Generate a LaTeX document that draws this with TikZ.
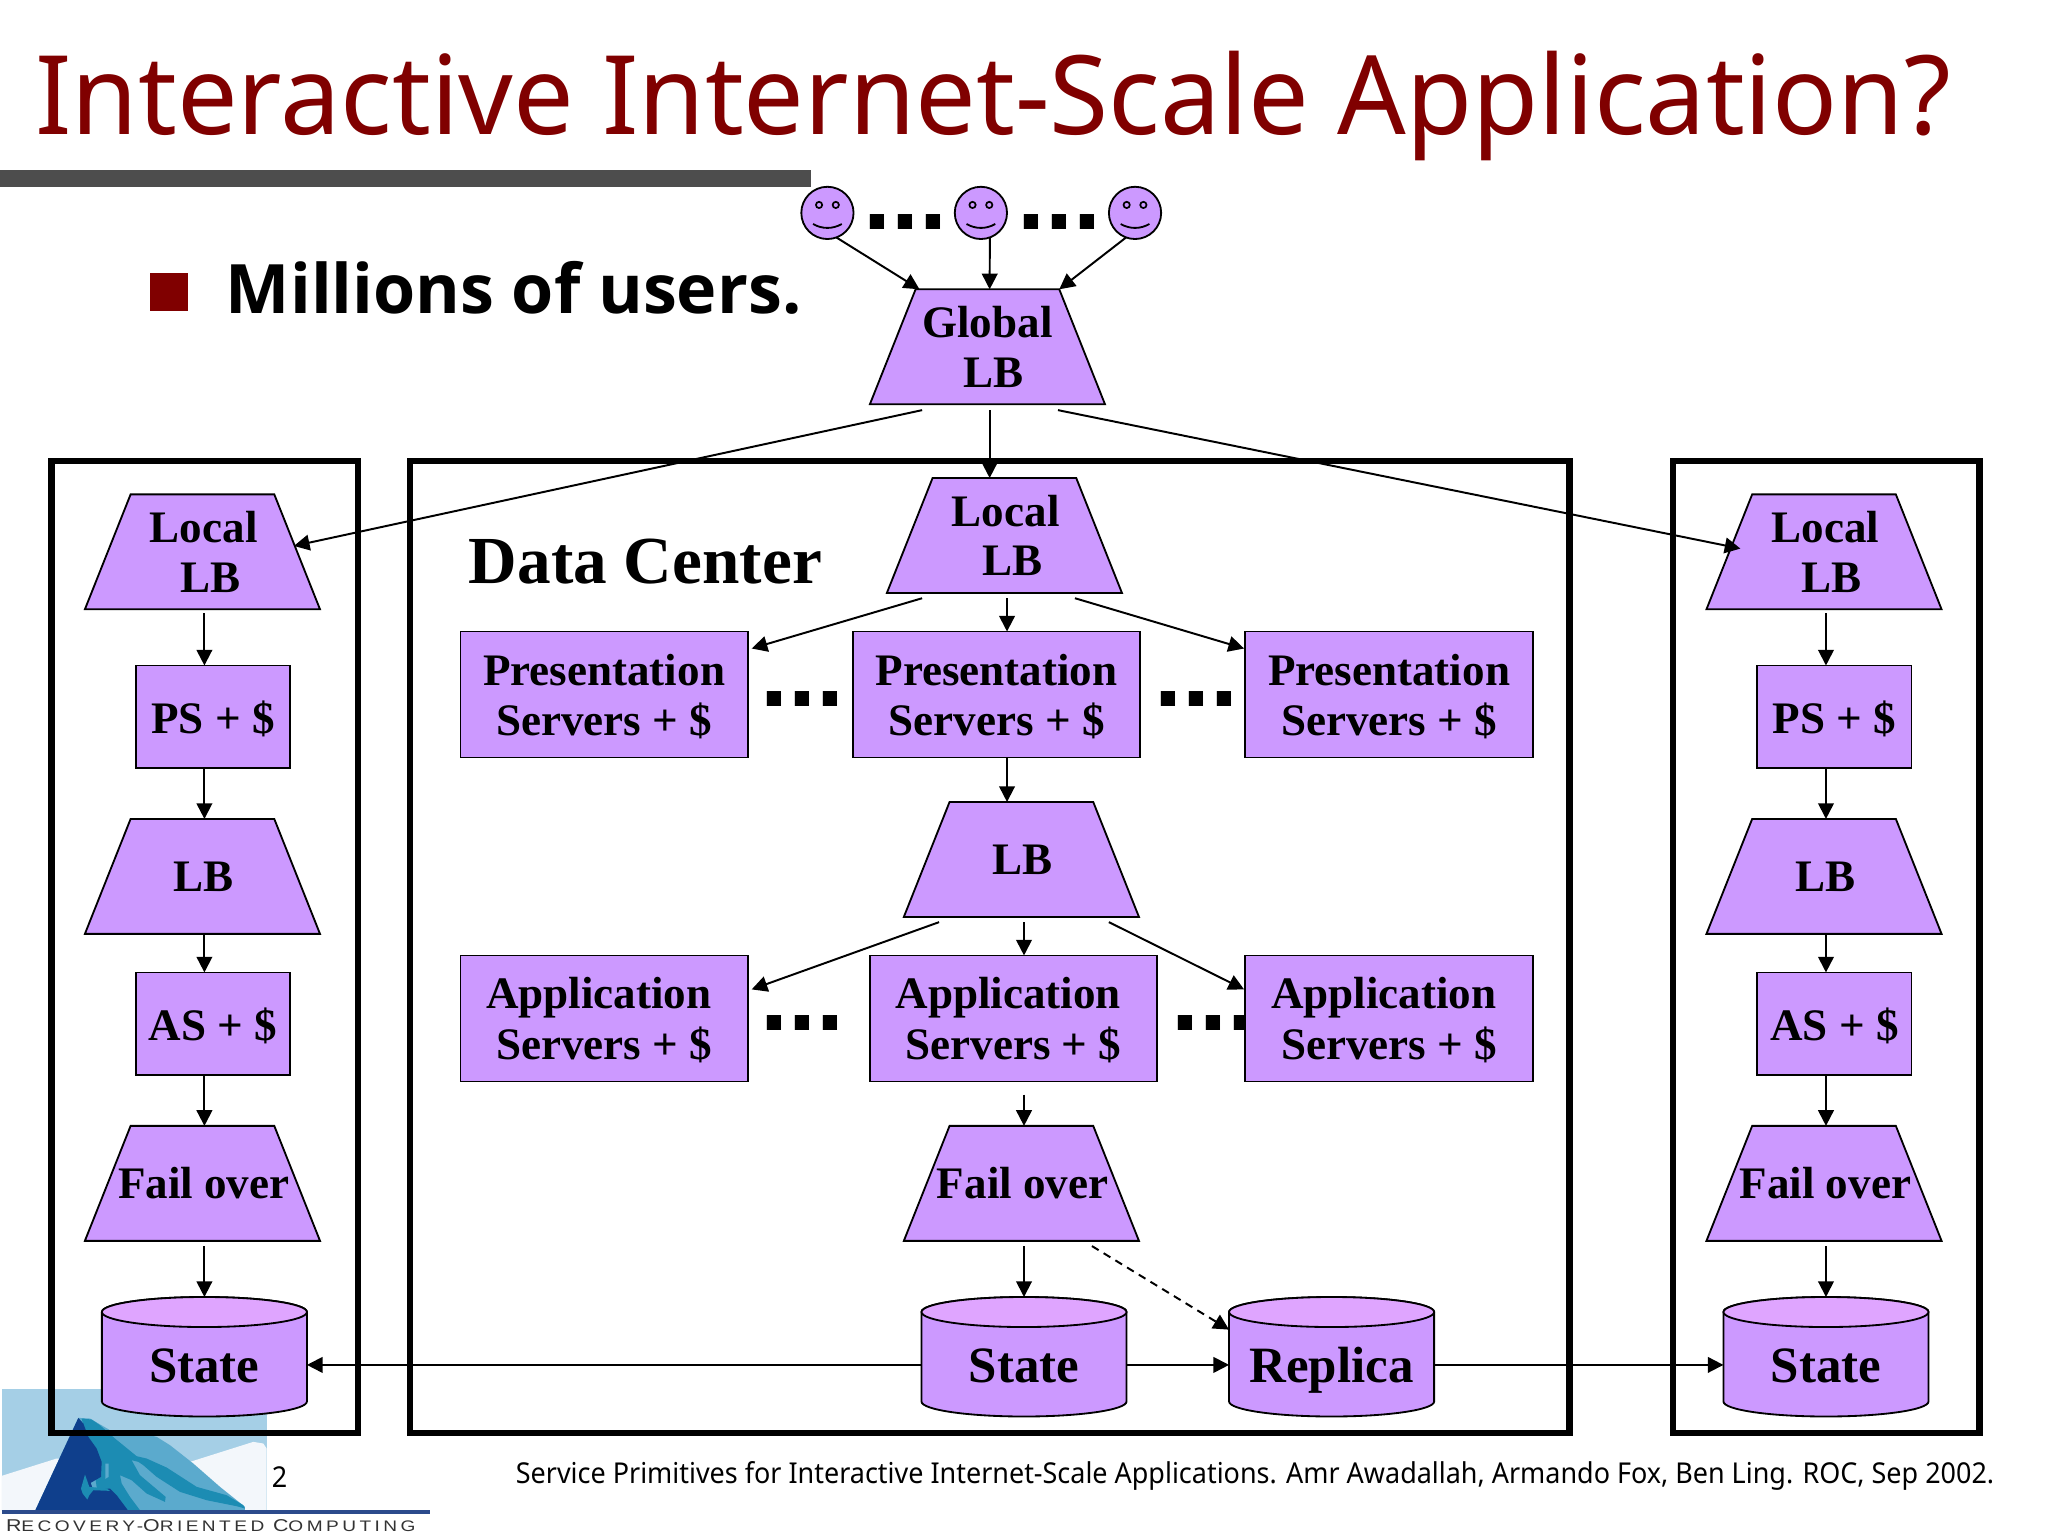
\documentclass[tikz,border=0pt]{standalone}
\usepackage{fontspec}
\setmainfont{Liberation Serif}
\newfontfamily\tah[FakeStretch=0.981]{Noto Sans}
\newfontfamily\tahb{Open Sans}
\newfontfamily\footfont[FakeStretch=0.938]{Noto Sans}
\newfontfamily\dotfont{Liberation Sans}
\newfontfamily\logofont[FakeStretch=1.25,LetterSpace=22.5]{Liberation Sans}
\usetikzlibrary{calc,arrows.meta,shapes.geometric}
\definecolor{lilac}{HTML}{CC99FF}
\definecolor{lilactop}{HTML}{DFA5FF}
\definecolor{titlered}{HTML}{800000}
\definecolor{bargrey}{HTML}{4D4D4D}
\definecolor{logosky}{RGB}{165,207,230}
\definecolor{logosnow}{RGB}{243,247,251}
\definecolor{logolight}{RGB}{91,170,205}
\definecolor{logoteal}{RGB}{28,140,179}
\definecolor{logodark}{RGB}{15,63,140}
\definecolor{logobar}{RGB}{44,75,140}
\tikzset{
  arr/.style={-{Triangle[length=12pt,width=12pt]},line width=1.5pt,black},
  dasharr/.style={arr,dash pattern=on 6pt off 4.5pt},
  framebox/.style={draw=black,line width=5pt,fill=none,miter limit=10},
  lbshape/.style={draw=black,fill=lilac,line width=1.4pt,line join=miter},
  lb/.style={rectangle,minimum width=180pt,minimum height=88pt,inner sep=0pt,outer sep=0pt,
    align=center,font=\fontsize{34.5}{38}\selectfont\bfseries},
  wide/.style={rectangle,minimum width=220pt,minimum height=96.5pt,inner sep=0pt,outer sep=0pt,draw=black,fill=lilac,line width=1.4pt,
    align=center,text depth=0pt,font=\fontsize{34.5}{38.5}\selectfont\bfseries},
  small/.style={rectangle,minimum width=118pt,minimum height=78.5pt,inner sep=0pt,outer sep=0pt,draw=black,fill=lilac,line width=1.4pt,
    align=center,text depth=0pt,font=\fontsize{34.5}{38}\selectfont\bfseries},
  cyltext/.style={rectangle,minimum width=157pt,minimum height=104pt,inner sep=0pt,outer sep=0pt,
    text height=27pt,text depth=0pt,font=\fontsize{39}{42}\selectfont\bfseries},
  cylbody/.style={draw=black,fill=lilac,line width=1.4pt},
  cyltop/.style={draw=black,fill=lilactop,line width=1.4pt},
  dots/.style={anchor=base west,inner sep=0pt,outer sep=0pt,font=\dotfont\fontsize{77}{78}\selectfont\bfseries},
  face/.style={circle,minimum size=40pt,inner sep=0pt,outer sep=0pt,draw=black,fill=lilac,line width=1.4pt},
}
\newcommand\lbnode[4]{%
  \begin{scope}[shift={(#2,#3)}]
    \path[lbshape] (-90,44) -- (-55,-44) -- (55,-44) -- (90,44) -- cycle;
  \end{scope}
  \node[lb] (#1) at (#2,#3) {#4};}
\newcommand\cylnode[3]{%
  \begin{scope}[shift={(#2,1039)},x=1pt,y=1pt]
    \path[cylbody] (-78.5,34.5) -- (-78.5,-34) arc[start angle=180,end angle=360,x radius=78.5pt,y radius=11.5pt]
      -- (78.5,34.5) arc[start angle=0,end angle=180,x radius=78.5pt,y radius=11.5pt] -- cycle;
    \path[cyltop] (0,34.5) ellipse[x radius=78.5pt,y radius=11.5pt];
  \end{scope}
  \node[cyltext] (#1) at (#2,1045) {#3};}
\newcommand\facenode[3]{%
  \node[face] (#1) at (#2,#3) {};
  \begin{scope}[shift={(#2,#3)},line width=1.3pt]
    \draw[fill=lilac] (-6.4,-6.1) circle[radius=2.4pt];
    \draw[fill=lilac] (6.4,-6.1) circle[radius=2.4pt];
    \draw[line width=1.4pt] (-11,8.5) .. controls (-4,12.5) and (4,12.5) .. (11,8.5);
  \end{scope}}
\newcommand\sidecol[1]{%
  \lbnode{#1loc}{155}{422.5}{\hspace*{2pt}Local\\\hspace*{12pt}LB}
  \node[small] (#1ps) at (163,548.75) {PS + \$};
  \lbnode{#1lb}{155}{671}{\hspace*{2pt}LB}
  \node[small] (#1as) at (163,783.75) {AS + \$};
  \lbnode{#1fo}{155}{906}{\hspace*{2pt}\raisebox{-2pt}{Fail over}}
  \cylnode{#1st}{156.5}{State}
  \draw[arr] ($(#1loc.south)+(1.5,3)$) -- ($(#1ps.north)+(-6.5,0)$);
  \draw[arr] ($(#1ps.south)+(-6.5,0)$) -- ($(#1lb.north)+(1.5,0)$);
  \draw[arr] ($(#1lb.south)+(1.5,0)$) -- ($(#1as.north)+(-6.5,0)$);
  \draw[arr] ($(#1as.south)+(-6.5,0)$) -- ($(#1fo.north)+(1.5,0)$);
  \draw[arr] ($(#1fo.south)+(1.5,4)$) -- (#1st.north);}
\begin{document}
\begin{tikzpicture}[x=1pt,y=-1pt]
\useasboundingbox (0,0) rectangle (1568,1176);
\fill[white] (0,0) rectangle (1568,1176);
% logo
\begin{scope}[shift={(0,1056.7)},x=0.2552pt,y=-0.2552pt]
  \fill[logosky] (5,25) rectangle (800,392);
  \fill[logosnow] (5,287) -- (170,235) -- (570,245) -- (760,185) -- (790,190) -- (800,205) -- (800,392) -- (5,392) -- cycle;
  \fill[logolight] (235,113) -- (270,115) -- (330,150) -- (390,150) -- (470,170) -- (510,195) -- (580,250) -- (660,320) -- (735,380) -- (735,392) -- (105,392) -- cycle;
  \fill[logoteal] (245,115) -- (275,118) -- (300,135) -- (345,175) -- (410,228) -- (440,235) -- (500,262) -- (590,320) -- (680,345) -- (730,375) -- (735,385)
    -- (710,378) -- (620,360) -- (540,335) -- (470,290) -- (430,255) -- (415,245) -- (395,240) -- (420,285) -- (497,350) -- (495,365) -- (440,340) -- (395,300) -- (360,285)
    -- (365,310) -- (390,350) -- (420,390) -- (385,392) -- (300,392) -- (280,250) -- cycle;
  \fill[logodark] (235,113) -- (250,130) -- (265,170) -- (290,205) -- (305,245) -- (303,290) -- (272,308) -- (280,330) -- (330,325) -- (350,345) -- (385,392) -- (105,392) -- cycle;
  \fill[logoteal] (255,283) -- (268,320) -- (320,325) -- (330,332) -- (280,330) -- (268,345) -- (262,358) -- (248,340) -- (243,325) -- cycle;
  \fill[logolight] (316,250) -- (326,250) -- (326,290) -- (316,296) -- cycle;
  \fill[logobar] (5,388) -- (1290,388) -- (1290,400) -- (5,400) -- cycle;
\end{scope}
\node[anchor=base west,inner sep=0pt,outer sep=0pt,text=black!80] (logotext) at (4.6,1172.8)
  {\logofont{\fontsize{13.1}{13}\selectfont R}{\fontsize{11.7}{12}\selectfont ECOVERY-}{\fontsize{13.1}{13}\selectfont O}{\fontsize{11.7}{12}\selectfont RIENTED }{\fontsize{13.1}{13}\selectfont C}{\fontsize{11.7}{12}\selectfont OMPUTING}};
% title
\node[anchor=base west,inner sep=0pt,outer sep=0pt,text=titlered,font=\tah\fontsize{84}{90}\selectfont] (title) at (27,103) {Interactive Internet-Scale Application?};
\fill[bargrey] (0,130) rectangle (621,143);
\fill[titlered] (115,209) rectangle (144,238);
\node[anchor=base west,inner sep=0pt,outer sep=0pt,font=\tahb\fontsize{52.2}{56}\selectfont\bfseries] (bullet) at (173,240) {Millions of users.};
% frames
\draw[framebox] (39.5,353) rectangle (274,1097);
\draw[framebox] (314,353) rectangle (1201.5,1097);
\draw[framebox] (1281,353) rectangle (1515.5,1097);
\node[anchor=base west,inner sep=0pt,outer sep=0pt,font=\fontsize{51.5}{54}\selectfont\bfseries] (dc) at (359,447) {Data Center};
% dots
\node[dots] (d1) at (661,175.6) {...};
\node[dots] (d2) at (779,175.6) {...};
\node[dots] (d3) at (582.5,541) {...};
\node[dots] (d4) at (884,541) {...};
\node[dots] (d5) at (582.5,789) {...};
\node[dots] (d6) at (897,789) {...};
% users
\facenode{u1}{633.5}{163}
\facenode{u2}{751}{163}
\facenode{u3}{869}{163}
\lbnode{glb}{756}{265.5}{Global\\\hspace*{10pt}LB}
% center column
\lbnode{cloc}{769}{410}{\hspace*{2pt}Local\\\hspace*{12pt}LB}
\node[wide] (p1) at (462.5,531.75) {Presentation\\Servers + \$};
\node[wide] (p2) at (763,531.75) {Presentation\\Servers + \$};
\node[wide] (p3) at (1063.5,531.75) {Presentation\\Servers + \$};
\lbnode{clb}{782}{658}{\hspace*{2pt}LB}
\node[wide] (a1) at (462.5,779.75) {Application\hspace*{8pt}\\Servers + \$};
\node[wide] (a2) at (776,779.75) {Application\hspace*{8pt}\\Servers + \$};
\node[wide] (a3) at (1063.5,779.75) {Application\hspace*{8pt}\\Servers + \$};
\lbnode{cfo}{782}{906}{\hspace*{2pt}\raisebox{-2pt}{Fail over}}
\cylnode{cst}{784}{State}
\cylnode{rep}{1019.5}{Replica}
% side columns
\sidecol{l}
\begin{scope}[shift={(1241.5,0)}]
\sidecol{r}
\end{scope}
% connectors
\draw[arr] (u1.-70) -- ($(glb.north)+(-52,0)$);
\draw[arr] (u2.-70) -- ($(glb.north)+(1.7,0)$);
\draw[arr] (u3.-110) -- ($(glb.north)+(55,0)$);
\draw[arr] ($(glb.south)+(-50,4.5)$) -- ($(lloc.center)+(70,-4.5)$);
\draw[arr] ($(glb.south)+(1.7,4.5)$) -- ($(cloc.north)+(-11.3,0)$);
\draw[arr] ($(glb.south)+(54,4.5)$) -- ($(rloc.center)+(-64,-2.5)$);
\draw[arr] ($(cloc.south)+(-63,4)$) -- ($(p1.north east)+(3,13)$);
\draw[arr] ($(cloc.south)+(2,4)$) -- ($(p2.north)+(8,0)$);
\draw[arr] ($(cloc.south)+(54,4)$) -- ($(p3.north west)+(-1,13)$);
\draw[arr] ($(p2.south)+(8,0)$) -- ($(clb.north)+(-11,0)$);
\draw[arr] ($(clb.south)+(-63,4)$) -- ($(a1.north east)+(3,26)$);
\draw[arr] ($(clb.south)+(2,4)$) -- ($(a2.north)+(8,0)$);
\draw[arr] ($(clb.south)+(67,4)$) -- ($(a3.north west)+(-1,26)$);
\draw[arr] ($(a2.south)+(8,10)$) -- ($(cfo.north)+(2,0)$);
\draw[arr] ($(cfo.south)+(2,4)$) -- (cst.north);
\draw[dasharr] ($(cfo.south)+(54,4)$) -- ($(rep.west)+(0,-27)$);
\draw[arr] (cst.west) -- (lst.east);
\draw[arr] (cst.east) -- (rep.west);
\draw[arr] (rep.east) -- (rst.west);
% footer
\node[anchor=base,inner sep=0pt,outer sep=0pt,font=\footfont\fontsize{22}{24}\selectfont] (pg) at (214,1139) {2};
\node[anchor=base west,inner sep=0pt,outer sep=0pt,font=\footfont\fontsize{22}{24}\selectfont] (cite) at (395,1136) {Service Primitives for Interactive Internet-Scale Applications. Amr Awadallah, Armando Fox, Ben Ling. ROC, Sep 2002.};
\end{tikzpicture}
\end{document}
